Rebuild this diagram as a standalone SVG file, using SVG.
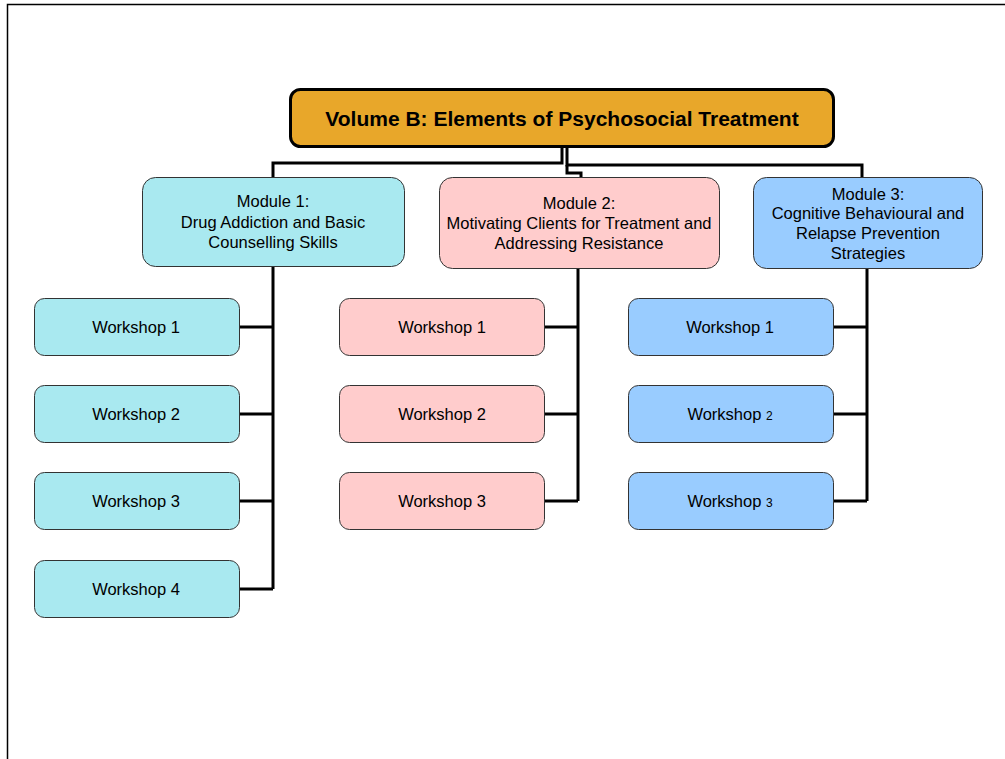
<svg xmlns="http://www.w3.org/2000/svg" width="1005" height="759" viewBox="0 0 1005 759">
<style>
text{font-family:"Liberation Sans",Arial,sans-serif;fill:#000;text-anchor:middle}
.t{font-size:16.5px}
.title{font-size:21px;font-weight:bold}
.c1{fill:#A9E9F0;stroke:#333;stroke-width:1}
.c2{fill:#FFCCCC;stroke:#333;stroke-width:1}
.c3{fill:#99CCFF;stroke:#333;stroke-width:1}
.conn{fill:none;stroke:#000;stroke-width:3}
.small{font-size:12px}
</style>
<rect width="1005" height="759" fill="#fff"/>
<path d="M7.5,759 V4.5 H1005" fill="none" stroke="#000" stroke-width="1.5"/>
<g id="connectors" class="conn">
<path d="M562,147 V163 H273 V177"/>
<path d="M567,147 V165 H862 V177"/>
<path d="M567,165 V173 H581 V177"/>
<path d="M273,266 V589 M239,327 H273 M239,414 H273 M239,501 H273 M239,589 H273"/>
<path d="M578,269 V501 M545,327 H578 M545,414 H578 M545,501 H578"/>
<path d="M867,269 V501 M833,327 H867 M833,414 H867 M833,501 H867"/>
</g>
<g id="root">
<rect x="290.5" y="89.5" width="543" height="57" rx="10" fill="#E8A72A" stroke="#000" stroke-width="3"/>
<text class="title" x="562" y="126">Volume B: Elements of Psychosocial Treatment</text>
</g>
<g id="module1">
<rect class="c1" x="142.5" y="177.5" width="262" height="89" rx="13"/>
<text class="t" x="273" y="207">Module 1:</text>
<text class="t" x="273" y="228">Drug Addiction and Basic</text>
<text class="t" x="273" y="248">Counselling Skills</text>
</g>
<g id="module2">
<rect class="c2" x="439.5" y="177.5" width="280" height="91" rx="13"/>
<text class="t" x="579" y="209">Module 2:</text>
<text class="t" x="579" y="229">Motivating Clients for Treatment and</text>
<text class="t" x="579" y="249">Addressing Resistance</text>
</g>
<g id="module3">
<rect class="c3" x="753.5" y="177.5" width="229" height="91" rx="13"/>
<text class="t" x="868" y="200">Module 3:</text>
<text class="t" x="868" y="219">Cognitive Behavioural and</text>
<text class="t" x="868" y="239">Relapse Prevention</text>
<text class="t" x="868" y="259">Strategies</text>
</g>
<g id="m1w1"><rect class="c1" x="34.5" y="298.5" width="205" height="57" rx="10"/><text class="t" x="136" y="333">Workshop 1</text></g>
<g id="m1w2"><rect class="c1" x="34.5" y="385.5" width="205" height="57" rx="10"/><text class="t" x="136" y="420">Workshop 2</text></g>
<g id="m1w3"><rect class="c1" x="34.5" y="472.5" width="205" height="57" rx="10"/><text class="t" x="136" y="507">Workshop 3</text></g>
<g id="m1w4"><rect class="c1" x="34.5" y="560.5" width="205" height="57" rx="10"/><text class="t" x="136" y="595">Workshop 4</text></g>
<g id="m2w1"><rect class="c2" x="339.5" y="298.5" width="205" height="57" rx="10"/><text class="t" x="442" y="333">Workshop 1</text></g>
<g id="m2w2"><rect class="c2" x="339.5" y="385.5" width="205" height="57" rx="10"/><text class="t" x="442" y="420">Workshop 2</text></g>
<g id="m2w3"><rect class="c2" x="339.5" y="472.5" width="205" height="57" rx="10"/><text class="t" x="442" y="507">Workshop 3</text></g>
<g id="m3w1"><rect class="c3" x="628.5" y="298.5" width="205" height="57" rx="10"/><text class="t" x="730" y="333">Workshop 1</text></g>
<g id="m3w2"><rect class="c3" x="628.5" y="385.5" width="205" height="57" rx="10"/><text class="t" x="730" y="420">Workshop <tspan class="small">2</tspan></text></g>
<g id="m3w3"><rect class="c3" x="628.5" y="472.5" width="205" height="57" rx="10"/><text class="t" x="730" y="507">Workshop <tspan class="small">3</tspan></text></g>
</svg>
